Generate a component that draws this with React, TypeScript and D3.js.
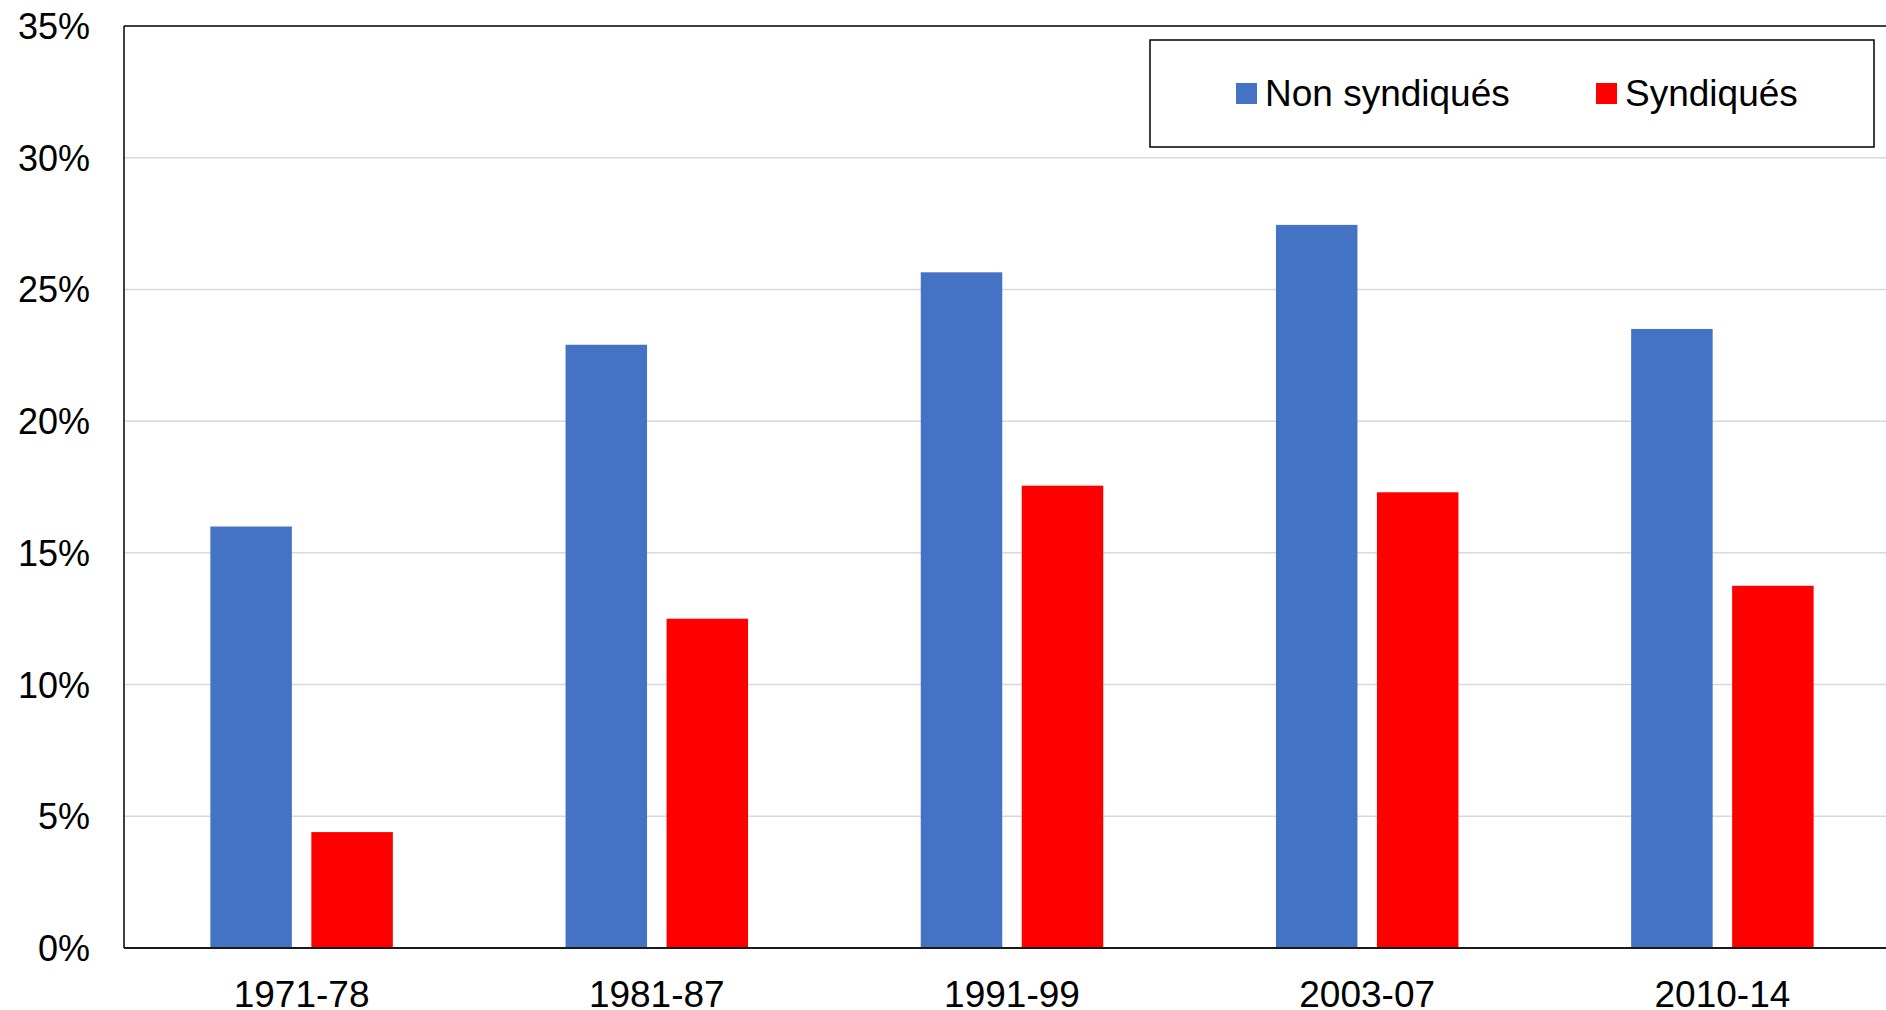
import React from "react";
import * as d3 from "d3";

const categories = ["1971-78", "1981-87", "1991-99", "2003-07", "2010-14"];
const seriesNames = ["Non syndiqués", "Syndiqués"];
const nonSyndiques = [16.0, 22.9, 25.65, 27.45, 23.5];
const syndiques = [4.4, 12.5, 17.55, 17.3, 13.75];
const seriesColors = ["#4472C4", "#FF0000"];
const yTicks = [0, 5, 10, 15, 20, 25, 30, 35];

const W = 1886;
const H = 1010;
const left = 124;
const right = 1900;
const top = 26;
const bottom = 948;
const FONT = "'Liberation Sans', Arial, sans-serif";

export default function App() {
  const x0 = d3.scaleBand<string>().domain(categories).range([left, right]).paddingInner(0).paddingOuter(0);
  const x1 = d3
    .scaleBand<string>()
    .domain(seriesNames)
    .range([0, x0.bandwidth()])
    .paddingInner(0.193)
    .paddingOuter(0.855);
  const y = d3.scaleLinear().domain([0, 35]).range([bottom, top]);
  const values = [nonSyndiques, syndiques];

  return (
    <svg
      width={W}
      height={H}
      style={{ position: "absolute", left: 0, top: 0, background: "#fff" }}
      fontFamily={FONT}
    >
      <rect x={0} y={0} width={W} height={H} fill="#fff" />
      {/* gridlines */}
      {yTicks.filter((t) => t > 0 && t < 35).map((t) => (
        <line key={t} x1={left} x2={right} y1={y(t)} y2={y(t)} stroke="#d9d9d9" strokeWidth={1.5} />
      ))}
      {/* bars */}
      {categories.map((c, i) => (
        <g key={c} transform={`translate(${x0(c)},0)`}>
          {seriesNames.map((s, j) => (
            <rect
              key={s}
              x={x1(s)}
              y={y(values[j][i])}
              width={x1.bandwidth()}
              height={y(0) - y(values[j][i])}
              fill={seriesColors[j]}
            />
          ))}
        </g>
      ))}
      {/* frame */}
      <line x1={left} x2={right} y1={top} y2={top} stroke="#000" strokeWidth={1.5} />
      <line x1={left} x2={left} y1={top} y2={bottom} stroke="#000" strokeWidth={1.5} />
      <line x1={left} x2={right} y1={bottom} y2={bottom} stroke="#1a1a1a" strokeWidth={2} />
      {/* y tick labels */}
      {yTicks.map((t) => (
        <text key={t} x={90} y={y(t)} dy="0.36em" textAnchor="end" fontSize={36} fill="#000">
          {`${t}%`}
        </text>
      ))}
      {/* x labels */}
      {categories.map((c) => (
        <text key={c} x={(x0(c) as number) + x0.bandwidth() / 2} y={1007} textAnchor="middle" fontSize={37} fill="#000">
          {c}
        </text>
      ))}
      {/* legend */}
      <rect x={1150} y={40} width={724} height={107} fill="#fff" stroke="#000" strokeWidth={1.5} />
      {seriesNames.map((s, j) => {
        const lx = j === 0 ? 1236 : 1596;
        return (
          <g key={s}>
            <rect x={lx} y={83} width={21} height={21} fill={seriesColors[j]} />
            <text x={lx + 29} y={106} fontSize={37} fill="#000">
              {s}
            </text>
          </g>
        );
      })}
    </svg>
  );
}
